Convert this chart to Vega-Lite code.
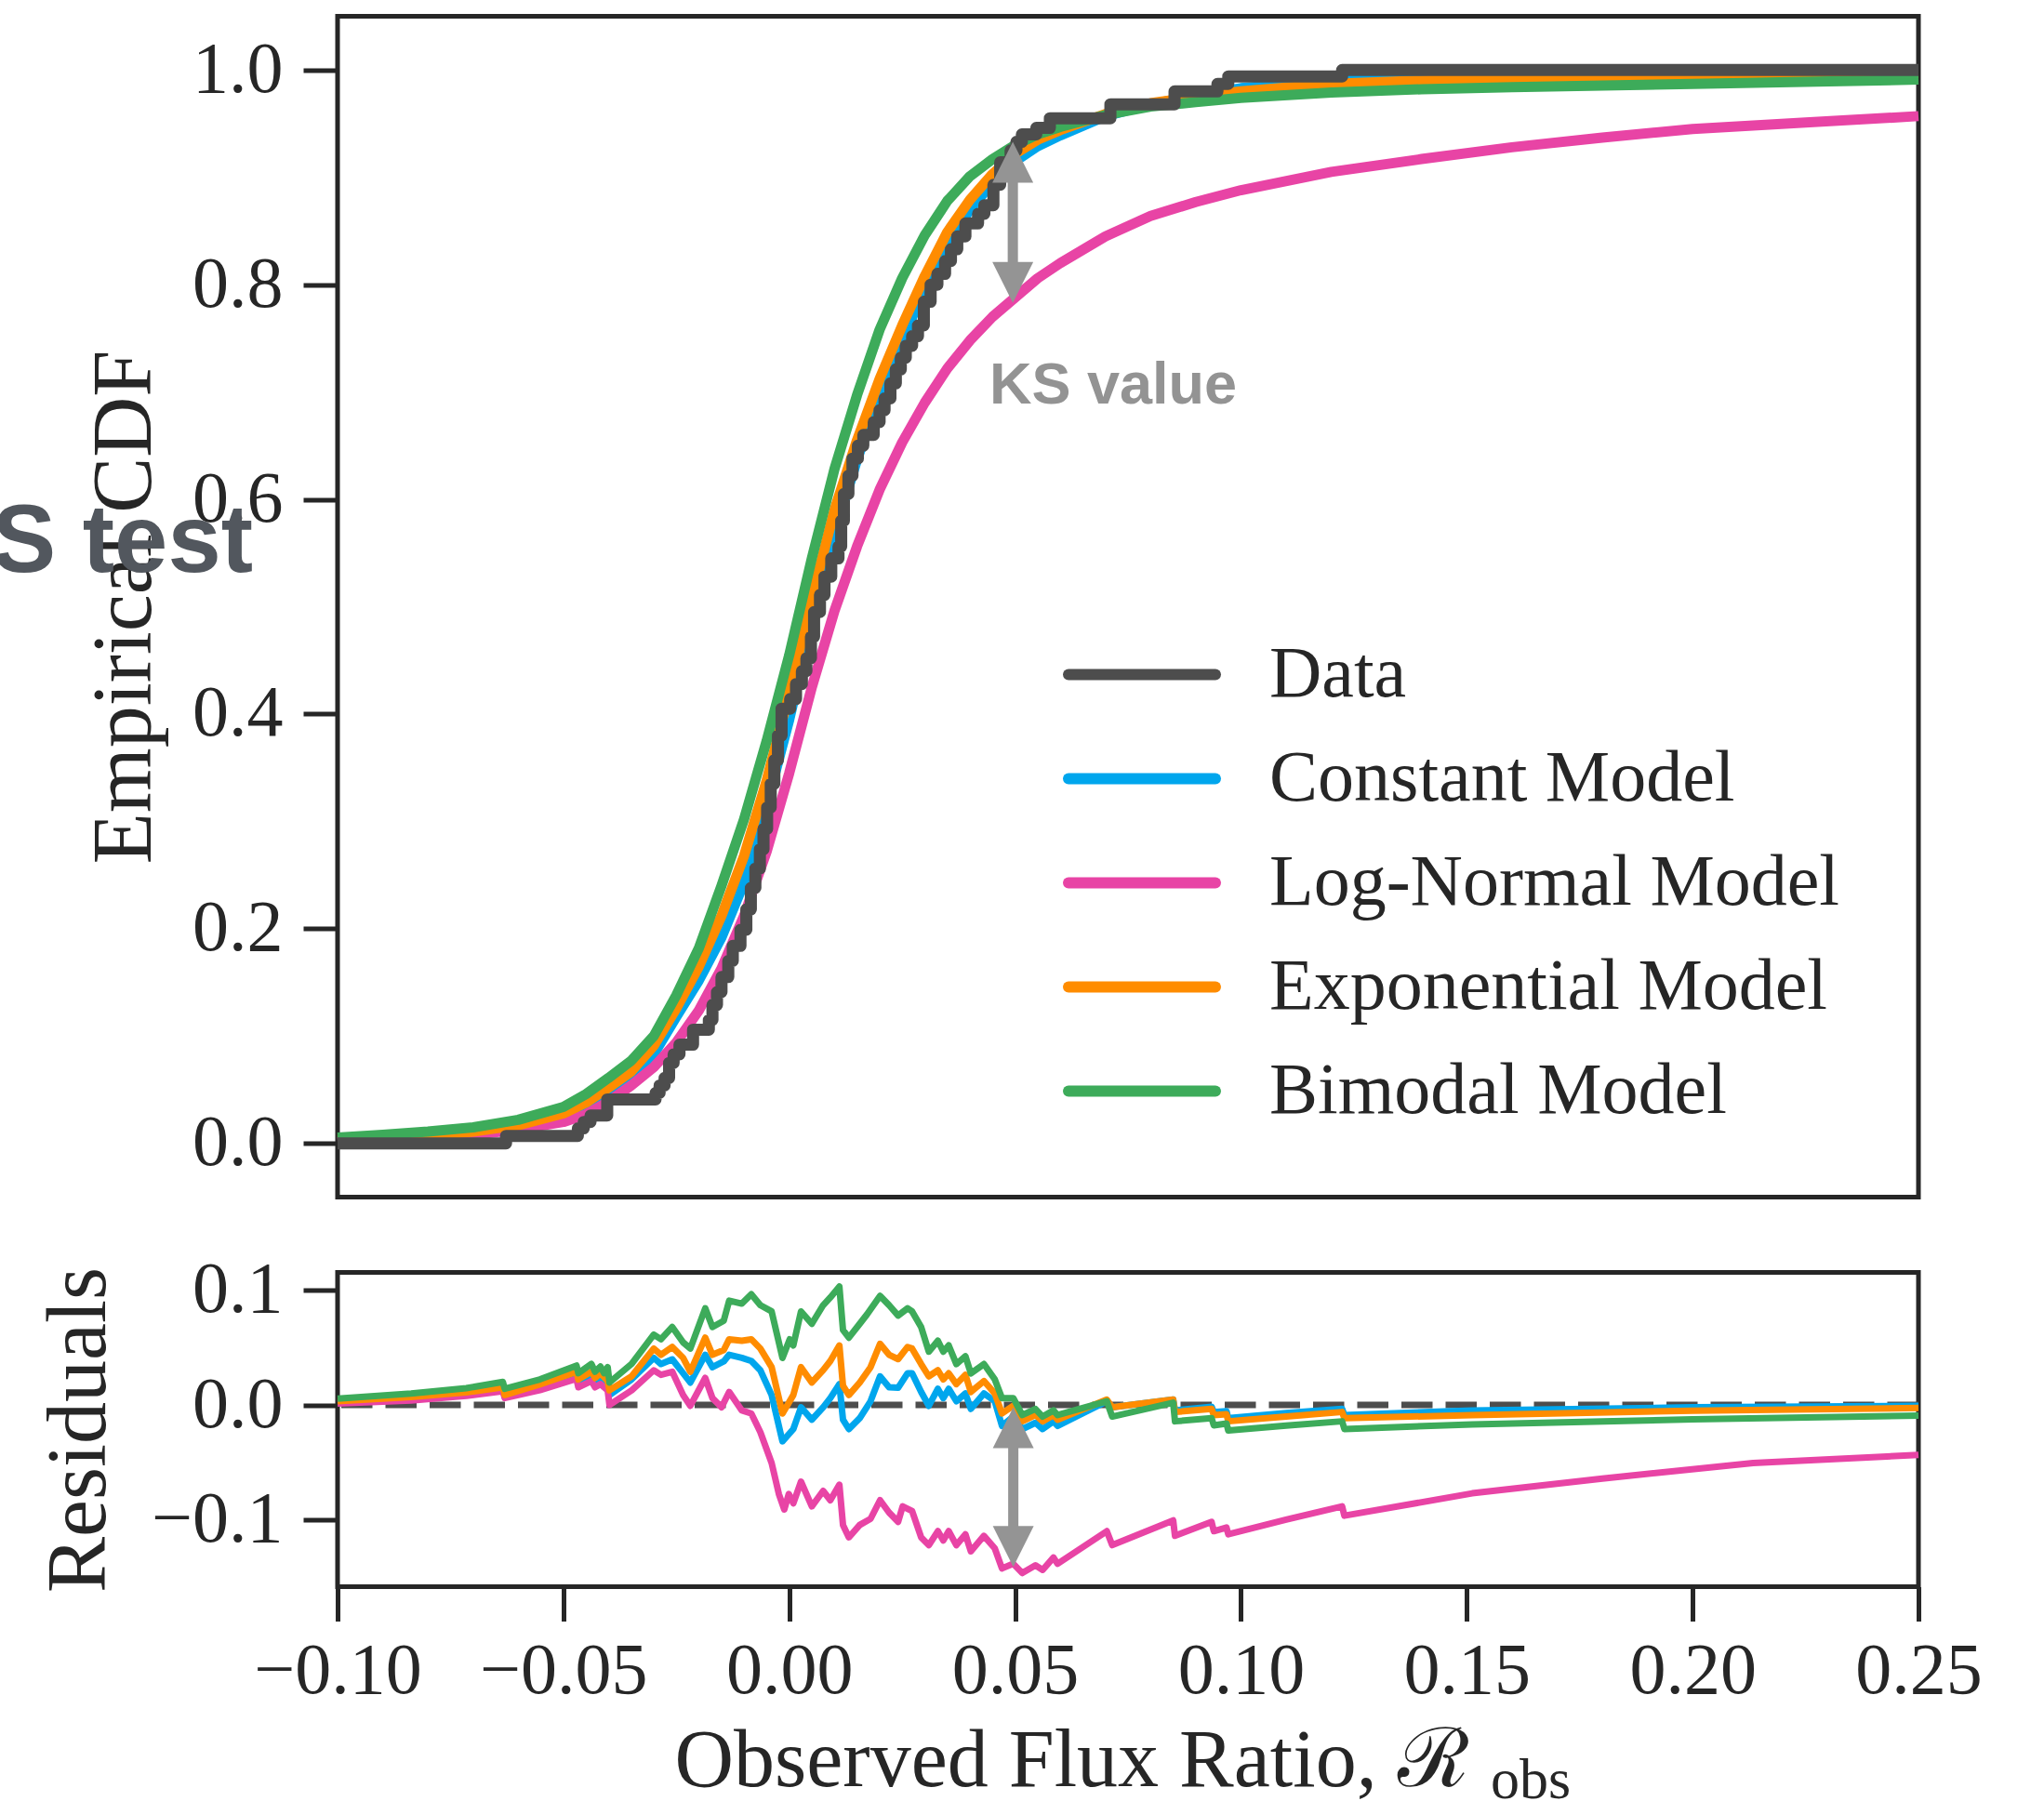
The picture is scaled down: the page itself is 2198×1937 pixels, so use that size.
{
  "$schema": "https://vega.github.io/schema/vega-lite/v6.json",
  "background": "white",
  "autosize": {"type": "pad"},
  "padding": {"left": -86, "top": 14.5, "right": 10, "bottom": -11},
  "config": {
    "view": {"stroke": "#262626", "strokeWidth": 5},
    "axis": {
      "domain": false, "grid": false, "ticks": true,
      "tickColor": "#262626", "tickWidth": 5, "tickSize": 37,
      "labelFont": "Liberation Serif", "labelFontSize": 78, "labelColor": "#262626", "labelLimit": 0,
      "labelPadding": 22, "labelOverlap": false, "labelFlush": false,
      "titleFont": "Liberation Serif", "titleFontSize": 90, "titleColor": "#262626", "titleFontWeight": "normal", "titleLimit": 0
    }
  },
  "datasets": {
    "cdf": [
      {"s":"Constant Model","x":-0.1,"v":0.002},{"s":"Constant Model","x":-0.09,"v":0.003},{"s":"Constant Model","x":-0.08,"v":0.005},{"s":"Constant Model","x":-0.07,"v":0.009},{"s":"Constant Model","x":-0.06,"v":0.016},{"s":"Constant Model","x":-0.05,"v":0.027},{"s":"Constant Model","x":-0.045,"v":0.036},{"s":"Constant Model","x":-0.04,"v":0.048},{"s":"Constant Model","x":-0.035,"v":0.063},{"s":"Constant Model","x":-0.03,"v":0.083},{"s":"Constant Model","x":-0.025,"v":0.118},{"s":"Constant Model","x":-0.02,"v":0.152},{"s":"Constant Model","x":-0.015,"v":0.192},{"s":"Constant Model","x":-0.01,"v":0.243},{"s":"Constant Model","x":-0.005,"v":0.315},{"s":"Constant Model","x":0.0,"v":0.395},{"s":"Constant Model","x":0.005,"v":0.485},{"s":"Constant Model","x":0.01,"v":0.568},{"s":"Constant Model","x":0.015,"v":0.637},{"s":"Constant Model","x":0.02,"v":0.697},{"s":"Constant Model","x":0.025,"v":0.748},{"s":"Constant Model","x":0.03,"v":0.797},{"s":"Constant Model","x":0.035,"v":0.838},{"s":"Constant Model","x":0.04,"v":0.87},{"s":"Constant Model","x":0.045,"v":0.895},{"s":"Constant Model","x":0.05,"v":0.915},{"s":"Constant Model","x":0.055,"v":0.929},{"s":"Constant Model","x":0.06,"v":0.939},{"s":"Constant Model","x":0.07,"v":0.957},{"s":"Constant Model","x":0.08,"v":0.968},{"s":"Constant Model","x":0.09,"v":0.976},{"s":"Constant Model","x":0.1,"v":0.983},{"s":"Constant Model","x":0.12,"v":0.99},{"s":"Constant Model","x":0.14,"v":0.994},{"s":"Constant Model","x":0.16,"v":0.996},{"s":"Constant Model","x":0.2,"v":0.998},{"s":"Constant Model","x":0.25,"v":0.999},
      {"s":"Log-Normal Model","x":-0.1,"v":0.0012},{"s":"Log-Normal Model","x":-0.09,"v":0.003},{"s":"Log-Normal Model","x":-0.08,"v":0.005},{"s":"Log-Normal Model","x":-0.07,"v":0.008},{"s":"Log-Normal Model","x":-0.06,"v":0.013},{"s":"Log-Normal Model","x":-0.05,"v":0.02},{"s":"Log-Normal Model","x":-0.045,"v":0.027},{"s":"Log-Normal Model","x":-0.04,"v":0.039},{"s":"Log-Normal Model","x":-0.035,"v":0.054},{"s":"Log-Normal Model","x":-0.03,"v":0.071},{"s":"Log-Normal Model","x":-0.025,"v":0.094},{"s":"Log-Normal Model","x":-0.02,"v":0.124},{"s":"Log-Normal Model","x":-0.015,"v":0.163},{"s":"Log-Normal Model","x":-0.01,"v":0.212},{"s":"Log-Normal Model","x":-0.005,"v":0.272},{"s":"Log-Normal Model","x":0.0,"v":0.345},{"s":"Log-Normal Model","x":0.005,"v":0.425},{"s":"Log-Normal Model","x":0.01,"v":0.496},{"s":"Log-Normal Model","x":0.015,"v":0.556},{"s":"Log-Normal Model","x":0.02,"v":0.609},{"s":"Log-Normal Model","x":0.025,"v":0.653},{"s":"Log-Normal Model","x":0.03,"v":0.69},{"s":"Log-Normal Model","x":0.035,"v":0.722},{"s":"Log-Normal Model","x":0.04,"v":0.748},{"s":"Log-Normal Model","x":0.045,"v":0.77},{"s":"Log-Normal Model","x":0.05,"v":0.788},{"s":"Log-Normal Model","x":0.055,"v":0.806},{"s":"Log-Normal Model","x":0.06,"v":0.82},{"s":"Log-Normal Model","x":0.07,"v":0.845},{"s":"Log-Normal Model","x":0.08,"v":0.864},{"s":"Log-Normal Model","x":0.09,"v":0.877},{"s":"Log-Normal Model","x":0.1,"v":0.888},{"s":"Log-Normal Model","x":0.12,"v":0.905},{"s":"Log-Normal Model","x":0.14,"v":0.917},{"s":"Log-Normal Model","x":0.16,"v":0.928},{"s":"Log-Normal Model","x":0.18,"v":0.937},{"s":"Log-Normal Model","x":0.2,"v":0.945},{"s":"Log-Normal Model","x":0.225,"v":0.951},{"s":"Log-Normal Model","x":0.25,"v":0.957},
      {"s":"Exponential Model","x":-0.1,"v":0.0033},{"s":"Exponential Model","x":-0.09,"v":0.005},{"s":"Exponential Model","x":-0.08,"v":0.007},{"s":"Exponential Model","x":-0.07,"v":0.011},{"s":"Exponential Model","x":-0.06,"v":0.017},{"s":"Exponential Model","x":-0.05,"v":0.028},{"s":"Exponential Model","x":-0.045,"v":0.038},{"s":"Exponential Model","x":-0.04,"v":0.052},{"s":"Exponential Model","x":-0.035,"v":0.067},{"s":"Exponential Model","x":-0.03,"v":0.091},{"s":"Exponential Model","x":-0.025,"v":0.126},{"s":"Exponential Model","x":-0.02,"v":0.165},{"s":"Exponential Model","x":-0.015,"v":0.212},{"s":"Exponential Model","x":-0.01,"v":0.268},{"s":"Exponential Model","x":-0.005,"v":0.338},{"s":"Exponential Model","x":0.0,"v":0.42},{"s":"Exponential Model","x":0.005,"v":0.508},{"s":"Exponential Model","x":0.01,"v":0.59},{"s":"Exponential Model","x":0.015,"v":0.655},{"s":"Exponential Model","x":0.02,"v":0.712},{"s":"Exponential Model","x":0.025,"v":0.762},{"s":"Exponential Model","x":0.03,"v":0.808},{"s":"Exponential Model","x":0.035,"v":0.849},{"s":"Exponential Model","x":0.04,"v":0.879},{"s":"Exponential Model","x":0.045,"v":0.903},{"s":"Exponential Model","x":0.05,"v":0.922},{"s":"Exponential Model","x":0.055,"v":0.935},{"s":"Exponential Model","x":0.06,"v":0.944},{"s":"Exponential Model","x":0.07,"v":0.959},{"s":"Exponential Model","x":0.08,"v":0.969},{"s":"Exponential Model","x":0.09,"v":0.975},{"s":"Exponential Model","x":0.1,"v":0.98},{"s":"Exponential Model","x":0.12,"v":0.987},{"s":"Exponential Model","x":0.14,"v":0.99},{"s":"Exponential Model","x":0.16,"v":0.992},{"s":"Exponential Model","x":0.2,"v":0.995},{"s":"Exponential Model","x":0.25,"v":0.997},
      {"s":"Bimodal Model","x":-0.1,"v":0.0055},{"s":"Bimodal Model","x":-0.09,"v":0.008},{"s":"Bimodal Model","x":-0.08,"v":0.011},{"s":"Bimodal Model","x":-0.07,"v":0.015},{"s":"Bimodal Model","x":-0.06,"v":0.022},{"s":"Bimodal Model","x":-0.05,"v":0.034},{"s":"Bimodal Model","x":-0.045,"v":0.046},{"s":"Bimodal Model","x":-0.04,"v":0.061},{"s":"Bimodal Model","x":-0.035,"v":0.077},{"s":"Bimodal Model","x":-0.03,"v":0.1},{"s":"Bimodal Model","x":-0.025,"v":0.138},{"s":"Bimodal Model","x":-0.02,"v":0.182},{"s":"Bimodal Model","x":-0.015,"v":0.24},{"s":"Bimodal Model","x":-0.01,"v":0.302},{"s":"Bimodal Model","x":-0.005,"v":0.375},{"s":"Bimodal Model","x":0.0,"v":0.455},{"s":"Bimodal Model","x":0.005,"v":0.545},{"s":"Bimodal Model","x":0.01,"v":0.628},{"s":"Bimodal Model","x":0.015,"v":0.697},{"s":"Bimodal Model","x":0.02,"v":0.758},{"s":"Bimodal Model","x":0.025,"v":0.806},{"s":"Bimodal Model","x":0.03,"v":0.846},{"s":"Bimodal Model","x":0.035,"v":0.878},{"s":"Bimodal Model","x":0.04,"v":0.901},{"s":"Bimodal Model","x":0.045,"v":0.917},{"s":"Bimodal Model","x":0.05,"v":0.93},{"s":"Bimodal Model","x":0.055,"v":0.94},{"s":"Bimodal Model","x":0.06,"v":0.947},{"s":"Bimodal Model","x":0.07,"v":0.958},{"s":"Bimodal Model","x":0.08,"v":0.966},{"s":"Bimodal Model","x":0.09,"v":0.97},{"s":"Bimodal Model","x":0.1,"v":0.974},{"s":"Bimodal Model","x":0.12,"v":0.979},{"s":"Bimodal Model","x":0.14,"v":0.982},{"s":"Bimodal Model","x":0.16,"v":0.984},{"s":"Bimodal Model","x":0.2,"v":0.987},{"s":"Bimodal Model","x":0.25,"v":0.991}
    ],
    "ecdf": [
      {"s":"Data","x":-0.1,"v":0},{"s":"Data","x":-0.0627,"v":0.007},{"s":"Data","x":-0.0468,"v":0.014},{"s":"Data","x":-0.0455,"v":0.02},{"s":"Data","x":-0.044,"v":0.026},{"s":"Data","x":-0.0403,"v":0.041},{"s":"Data","x":-0.0296,"v":0.047},{"s":"Data","x":-0.0287,"v":0.054},{"s":"Data","x":-0.0276,"v":0.061},{"s":"Data","x":-0.0266,"v":0.075},{"s":"Data","x":-0.0256,"v":0.083},{"s":"Data","x":-0.0243,"v":0.092},{"s":"Data","x":-0.0213,"v":0.106},{"s":"Data","x":-0.0178,"v":0.115},{"s":"Data","x":-0.017,"v":0.129},{"s":"Data","x":-0.016,"v":0.141},{"s":"Data","x":-0.015,"v":0.155},{"s":"Data","x":-0.0135,"v":0.17},{"s":"Data","x":-0.0125,"v":0.184},{"s":"Data","x":-0.0108,"v":0.199},{"s":"Data","x":-0.0095,"v":0.218},{"s":"Data","x":-0.0085,"v":0.238},{"s":"Data","x":-0.0075,"v":0.256},{"s":"Data","x":-0.0065,"v":0.274},{"s":"Data","x":-0.0057,"v":0.293},{"s":"Data","x":-0.0049,"v":0.313},{"s":"Data","x":-0.0041,"v":0.335},{"s":"Data","x":-0.0033,"v":0.357},{"s":"Data","x":-0.0025,"v":0.38},{"s":"Data","x":-0.0017,"v":0.405},{"s":"Data","x":0.0002,"v":0.414},{"s":"Data","x":0.0015,"v":0.428},{"s":"Data","x":0.0028,"v":0.44},{"s":"Data","x":0.0038,"v":0.452},{"s":"Data","x":0.0048,"v":0.472},{"s":"Data","x":0.0055,"v":0.495},{"s":"Data","x":0.0068,"v":0.511},{"s":"Data","x":0.0078,"v":0.528},{"s":"Data","x":0.0093,"v":0.545},{"s":"Data","x":0.0109,"v":0.556},{"s":"Data","x":0.0115,"v":0.58},{"s":"Data","x":0.0121,"v":0.605},{"s":"Data","x":0.0131,"v":0.622},{"s":"Data","x":0.014,"v":0.638},{"s":"Data","x":0.0152,"v":0.65},{"s":"Data","x":0.0164,"v":0.66},{"s":"Data","x":0.0187,"v":0.672},{"s":"Data","x":0.02,"v":0.683},{"s":"Data","x":0.0211,"v":0.694},{"s":"Data","x":0.0224,"v":0.708},{"s":"Data","x":0.0236,"v":0.721},{"s":"Data","x":0.0247,"v":0.732},{"s":"Data","x":0.0258,"v":0.743},{"s":"Data","x":0.0272,"v":0.752},{"s":"Data","x":0.0285,"v":0.762},{"s":"Data","x":0.0298,"v":0.784},{"s":"Data","x":0.0313,"v":0.8},{"s":"Data","x":0.0328,"v":0.81},{"s":"Data","x":0.0345,"v":0.822},{"s":"Data","x":0.0358,"v":0.833},{"s":"Data","x":0.0372,"v":0.845},{"s":"Data","x":0.039,"v":0.857},{"s":"Data","x":0.0418,"v":0.866},{"s":"Data","x":0.0432,"v":0.874},{"s":"Data","x":0.0452,"v":0.893},{"s":"Data","x":0.0467,"v":0.914},{"s":"Data","x":0.049,"v":0.925},{"s":"Data","x":0.0503,"v":0.933},{"s":"Data","x":0.0515,"v":0.94},{"s":"Data","x":0.0547,"v":0.946},{"s":"Data","x":0.0577,"v":0.955},{"s":"Data","x":0.0711,"v":0.968},{"s":"Data","x":0.0853,"v":0.98},{"s":"Data","x":0.0948,"v":0.987},{"s":"Data","x":0.0972,"v":0.994},{"s":"Data","x":0.1224,"v":1.0},{"s":"Data","x":0.25,"v":1.0}
    ],
    "resid": [
      {"s":"Constant Model","x":-0.1,"r":0.002},{"s":"Constant Model","x":-0.0837,"r":0.005},{"s":"Constant Model","x":-0.0715,"r":0.009},{"s":"Constant Model","x":-0.0634,"r":0.0141},{"s":"Constant Model","x":-0.063,"r":0.0074},{"s":"Constant Model","x":-0.0552,"r":0.016},{"s":"Constant Model","x":-0.0471,"r":0.0263},{"s":"Constant Model","x":-0.0467,"r":0.0196},{"s":"Constant Model","x":-0.0438,"r":0.025},{"s":"Constant Model","x":-0.043,"r":0.0196},{"s":"Constant Model","x":-0.0418,"r":0.023},{"s":"Constant Model","x":-0.0402,"r":0.0182},{"s":"Constant Model","x":-0.0398,"r":0.0087},{"s":"Constant Model","x":-0.0349,"r":0.0223},{"s":"Constant Model","x":-0.03,"r":0.0411},{"s":"Constant Model","x":-0.0284,"r":0.0357},{"s":"Constant Model","x":-0.0259,"r":0.0398},{"s":"Constant Model","x":-0.0235,"r":0.0277},{"s":"Constant Model","x":-0.0219,"r":0.0196},{"s":"Constant Model","x":-0.0186,"r":0.0438},{"s":"Constant Model","x":-0.017,"r":0.033},{"s":"Constant Model","x":-0.0145,"r":0.038},{"s":"Constant Model","x":-0.0133,"r":0.0438},{"s":"Constant Model","x":-0.0105,"r":0.0411},{"s":"Constant Model","x":-0.0084,"r":0.0384},{"s":"Constant Model","x":-0.0064,"r":0.0303},{"s":"Constant Model","x":-0.0039,"r":0.0087},{"s":"Constant Model","x":-0.0015,"r":-0.0317},{"s":"Constant Model","x":0.0009,"r":-0.021},{"s":"Constant Model","x":0.0026,"r":-0.002},{"s":"Constant Model","x":0.005,"r":-0.0128},{"s":"Constant Model","x":0.0075,"r":-0.002},{"s":"Constant Model","x":0.0091,"r":0.006},{"s":"Constant Model","x":0.0111,"r":0.0182},{"s":"Constant Model","x":0.0119,"r":-0.0128},{"s":"Constant Model","x":0.0132,"r":-0.021},{"s":"Constant Model","x":0.0156,"r":-0.0115},{"s":"Constant Model","x":0.018,"r":0.0033},{"s":"Constant Model","x":0.0201,"r":0.025},{"s":"Constant Model","x":0.0221,"r":0.0155},{"s":"Constant Model","x":0.0241,"r":0.015},{"s":"Constant Model","x":0.0262,"r":0.0277},{"s":"Constant Model","x":0.0272,"r":0.0277},{"s":"Constant Model","x":0.0292,"r":0.0114},{"s":"Constant Model","x":0.0309,"r":-0.0007},{"s":"Constant Model","x":0.0329,"r":0.0141},{"s":"Constant Model","x":0.0341,"r":0.006},{"s":"Constant Model","x":0.0353,"r":0.0141},{"s":"Constant Model","x":0.037,"r":0.0033},{"s":"Constant Model","x":0.039,"r":0.0101},{"s":"Constant Model","x":0.0402,"r":-0.0034},{"s":"Constant Model","x":0.0431,"r":0.0101},{"s":"Constant Model","x":0.0455,"r":0.0033},{"s":"Constant Model","x":0.0471,"r":-0.0182},{"s":"Constant Model","x":0.0496,"r":-0.0101},{"s":"Constant Model","x":0.0516,"r":-0.021},{"s":"Constant Model","x":0.0545,"r":-0.0155},{"s":"Constant Model","x":0.0561,"r":-0.021},{"s":"Constant Model","x":0.0585,"r":-0.0142},{"s":"Constant Model","x":0.0594,"r":-0.0182},{"s":"Constant Model","x":0.0703,"r":0.0033},{"s":"Constant Model","x":0.0715,"r":-0.002},{"s":"Constant Model","x":0.085,"r":0.0047},{"s":"Constant Model","x":0.0854,"r":-0.0047},{"s":"Constant Model","x":0.0935,"r":-0.0015},{"s":"Constant Model","x":0.094,"r":-0.0061},{"s":"Constant Model","x":0.0968,"r":-0.0053},{"s":"Constant Model","x":0.0972,"r":-0.0115},{"s":"Constant Model","x":0.11,"r":-0.007},{"s":"Constant Model","x":0.1224,"r":-0.0034},{"s":"Constant Model","x":0.1229,"r":-0.0088},{"s":"Constant Model","x":0.1512,"r":-0.0047},{"s":"Constant Model","x":0.2,"r":-0.002},{"s":"Constant Model","x":0.25,"r":-0.0008},
      {"s":"Log-Normal Model","x":-0.1,"r":0.0012},{"s":"Log-Normal Model","x":-0.0837,"r":0.004},{"s":"Log-Normal Model","x":-0.0715,"r":0.008},{"s":"Log-Normal Model","x":-0.0634,"r":0.012},{"s":"Log-Normal Model","x":-0.063,"r":0.006},{"s":"Log-Normal Model","x":-0.0552,"r":0.013},{"s":"Log-Normal Model","x":-0.0471,"r":0.0228},{"s":"Log-Normal Model","x":-0.0467,"r":0.0155},{"s":"Log-Normal Model","x":-0.0438,"r":0.0209},{"s":"Log-Normal Model","x":-0.043,"r":0.0155},{"s":"Log-Normal Model","x":-0.0418,"r":0.0182},{"s":"Log-Normal Model","x":-0.0402,"r":0.0128},{"s":"Log-Normal Model","x":-0.0398,"r":0.0001},{"s":"Log-Normal Model","x":-0.0349,"r":0.0128},{"s":"Log-Normal Model","x":-0.03,"r":0.0303},{"s":"Log-Normal Model","x":-0.0284,"r":0.0263},{"s":"Log-Normal Model","x":-0.0259,"r":0.029},{"s":"Log-Normal Model","x":-0.0235,"r":0.0087},{"s":"Log-Normal Model","x":-0.0219,"r":-0.0007},{"s":"Log-Normal Model","x":-0.0186,"r":0.0236},{"s":"Log-Normal Model","x":-0.017,"r":0.006},{"s":"Log-Normal Model","x":-0.015,"r":-0.002},{"s":"Log-Normal Model","x":-0.0133,"r":0.0114},{"s":"Log-Normal Model","x":-0.0105,"r":-0.0047},{"s":"Log-Normal Model","x":-0.0084,"r":-0.0074},{"s":"Log-Normal Model","x":-0.0064,"r":-0.0236},{"s":"Log-Normal Model","x":-0.0039,"r":-0.0506},{"s":"Log-Normal Model","x":-0.0023,"r":-0.0776},{"s":"Log-Normal Model","x":-0.0011,"r":-0.0911},{"s":"Log-Normal Model","x":-0.0001,"r":-0.0776},{"s":"Log-Normal Model","x":0.0009,"r":-0.0857},{"s":"Log-Normal Model","x":0.0026,"r":-0.0668},{"s":"Log-Normal Model","x":0.005,"r":-0.0884},{"s":"Log-Normal Model","x":0.0075,"r":-0.0749},{"s":"Log-Normal Model","x":0.0091,"r":-0.083},{"s":"Log-Normal Model","x":0.0111,"r":-0.0695},{"s":"Log-Normal Model","x":0.0119,"r":-0.1046},{"s":"Log-Normal Model","x":0.0132,"r":-0.1154},{"s":"Log-Normal Model","x":0.0156,"r":-0.1046},{"s":"Log-Normal Model","x":0.018,"r":-0.0992},{"s":"Log-Normal Model","x":0.0201,"r":-0.083},{"s":"Log-Normal Model","x":0.0221,"r":-0.0938},{"s":"Log-Normal Model","x":0.0241,"r":-0.1019},{"s":"Log-Normal Model","x":0.0251,"r":-0.0884},{"s":"Log-Normal Model","x":0.0272,"r":-0.0925},{"s":"Log-Normal Model","x":0.0292,"r":-0.1154},{"s":"Log-Normal Model","x":0.0309,"r":-0.1222},{"s":"Log-Normal Model","x":0.0329,"r":-0.11},{"s":"Log-Normal Model","x":0.0341,"r":-0.1181},{"s":"Log-Normal Model","x":0.0353,"r":-0.11},{"s":"Log-Normal Model","x":0.037,"r":-0.1222},{"s":"Log-Normal Model","x":0.039,"r":-0.1127},{"s":"Log-Normal Model","x":0.0402,"r":-0.1276},{"s":"Log-Normal Model","x":0.0431,"r":-0.1141},{"s":"Log-Normal Model","x":0.0455,"r":-0.125},{"s":"Log-Normal Model","x":0.0471,"r":-0.1425},{"s":"Log-Normal Model","x":0.0496,"r":-0.1384},{"s":"Log-Normal Model","x":0.0516,"r":-0.1465},{"s":"Log-Normal Model","x":0.0545,"r":-0.1398},{"s":"Log-Normal Model","x":0.0561,"r":-0.1438},{"s":"Log-Normal Model","x":0.0585,"r":-0.133},{"s":"Log-Normal Model","x":0.0594,"r":-0.1384},{"s":"Log-Normal Model","x":0.0703,"r":-0.11},{"s":"Log-Normal Model","x":0.0715,"r":-0.1222},{"s":"Log-Normal Model","x":0.085,"r":-0.1006},{"s":"Log-Normal Model","x":0.0854,"r":-0.1141},{"s":"Log-Normal Model","x":0.0935,"r":-0.1019},{"s":"Log-Normal Model","x":0.094,"r":-0.11},{"s":"Log-Normal Model","x":0.0968,"r":-0.1068},{"s":"Log-Normal Model","x":0.0972,"r":-0.1127},{"s":"Log-Normal Model","x":0.11,"r":-0.1},{"s":"Log-Normal Model","x":0.1224,"r":-0.0884},{"s":"Log-Normal Model","x":0.1229,"r":-0.0965},{"s":"Log-Normal Model","x":0.1512,"r":-0.077},{"s":"Log-Normal Model","x":0.18,"r":-0.0641},{"s":"Log-Normal Model","x":0.2134,"r":-0.0506},{"s":"Log-Normal Model","x":0.25,"r":-0.0435},
      {"s":"Exponential Model","x":-0.1,"r":0.0033},{"s":"Exponential Model","x":-0.0837,"r":0.007},{"s":"Exponential Model","x":-0.0715,"r":0.011},{"s":"Exponential Model","x":-0.0634,"r":0.0155},{"s":"Exponential Model","x":-0.063,"r":0.0087},{"s":"Exponential Model","x":-0.0552,"r":0.018},{"s":"Exponential Model","x":-0.0471,"r":0.029},{"s":"Exponential Model","x":-0.0467,"r":0.0223},{"s":"Exponential Model","x":-0.0438,"r":0.029},{"s":"Exponential Model","x":-0.043,"r":0.0236},{"s":"Exponential Model","x":-0.0418,"r":0.0277},{"s":"Exponential Model","x":-0.0402,"r":0.0209},{"s":"Exponential Model","x":-0.0398,"r":0.0128},{"s":"Exponential Model","x":-0.0349,"r":0.025},{"s":"Exponential Model","x":-0.03,"r":0.0492},{"s":"Exponential Model","x":-0.0284,"r":0.0438},{"s":"Exponential Model","x":-0.0259,"r":0.0506},{"s":"Exponential Model","x":-0.0235,"r":0.0411},{"s":"Exponential Model","x":-0.0219,"r":0.029},{"s":"Exponential Model","x":-0.0186,"r":0.0587},{"s":"Exponential Model","x":-0.017,"r":0.0438},{"s":"Exponential Model","x":-0.0145,"r":0.0479},{"s":"Exponential Model","x":-0.0133,"r":0.0573},{"s":"Exponential Model","x":-0.0105,"r":0.056},{"s":"Exponential Model","x":-0.0084,"r":0.0573},{"s":"Exponential Model","x":-0.0064,"r":0.0492},{"s":"Exponential Model","x":-0.0039,"r":0.033},{"s":"Exponential Model","x":-0.0015,"r":-0.0074},{"s":"Exponential Model","x":0.0009,"r":0.0087},{"s":"Exponential Model","x":0.0026,"r":0.033},{"s":"Exponential Model","x":0.005,"r":0.0196},{"s":"Exponential Model","x":0.0075,"r":0.0303},{"s":"Exponential Model","x":0.0091,"r":0.0384},{"s":"Exponential Model","x":0.0111,"r":0.0519},{"s":"Exponential Model","x":0.0119,"r":0.0168},{"s":"Exponential Model","x":0.0132,"r":0.0087},{"s":"Exponential Model","x":0.0156,"r":0.0196},{"s":"Exponential Model","x":0.018,"r":0.033},{"s":"Exponential Model","x":0.0201,"r":0.0533},{"s":"Exponential Model","x":0.0221,"r":0.0438},{"s":"Exponential Model","x":0.0241,"r":0.04},{"s":"Exponential Model","x":0.0262,"r":0.0506},{"s":"Exponential Model","x":0.0272,"r":0.0492},{"s":"Exponential Model","x":0.0292,"r":0.0357},{"s":"Exponential Model","x":0.0309,"r":0.025},{"s":"Exponential Model","x":0.0329,"r":0.0303},{"s":"Exponential Model","x":0.0341,"r":0.0223},{"s":"Exponential Model","x":0.0353,"r":0.0276},{"s":"Exponential Model","x":0.037,"r":0.0182},{"s":"Exponential Model","x":0.039,"r":0.0263},{"s":"Exponential Model","x":0.0402,"r":0.0114},{"s":"Exponential Model","x":0.0431,"r":0.0209},{"s":"Exponential Model","x":0.0455,"r":0.0101},{"s":"Exponential Model","x":0.0471,"r":-0.0074},{"s":"Exponential Model","x":0.0496,"r":-0.0007},{"s":"Exponential Model","x":0.0516,"r":-0.0142},{"s":"Exponential Model","x":0.0545,"r":-0.0088},{"s":"Exponential Model","x":0.0561,"r":-0.0142},{"s":"Exponential Model","x":0.0585,"r":-0.0088},{"s":"Exponential Model","x":0.0594,"r":-0.0128},{"s":"Exponential Model","x":0.0703,"r":0.0047},{"s":"Exponential Model","x":0.0715,"r":-0.002},{"s":"Exponential Model","x":0.085,"r":0.0047},{"s":"Exponential Model","x":0.0854,"r":-0.0061},{"s":"Exponential Model","x":0.0935,"r":-0.0034},{"s":"Exponential Model","x":0.094,"r":-0.0088},{"s":"Exponential Model","x":0.0968,"r":-0.008},{"s":"Exponential Model","x":0.0972,"r":-0.0142},{"s":"Exponential Model","x":0.11,"r":-0.01},{"s":"Exponential Model","x":0.1224,"r":-0.0061},{"s":"Exponential Model","x":0.1229,"r":-0.0115},{"s":"Exponential Model","x":0.1512,"r":-0.0088},{"s":"Exponential Model","x":0.2,"r":-0.005},{"s":"Exponential Model","x":0.25,"r":-0.0026},
      {"s":"Bimodal Model","x":-0.1,"r":0.0055},{"s":"Bimodal Model","x":-0.0837,"r":0.0101},{"s":"Bimodal Model","x":-0.0715,"r":0.0147},{"s":"Bimodal Model","x":-0.0634,"r":0.0201},{"s":"Bimodal Model","x":-0.063,"r":0.0142},{"s":"Bimodal Model","x":-0.0552,"r":0.0223},{"s":"Bimodal Model","x":-0.0471,"r":0.0344},{"s":"Bimodal Model","x":-0.0467,"r":0.0277},{"s":"Bimodal Model","x":-0.0438,"r":0.0358},{"s":"Bimodal Model","x":-0.043,"r":0.029},{"s":"Bimodal Model","x":-0.0418,"r":0.0336},{"s":"Bimodal Model","x":-0.041,"r":0.0277},{"s":"Bimodal Model","x":-0.0402,"r":0.033},{"s":"Bimodal Model","x":-0.0398,"r":0.0196},{"s":"Bimodal Model","x":-0.0349,"r":0.0358},{"s":"Bimodal Model","x":-0.03,"r":0.0614},{"s":"Bimodal Model","x":-0.0284,"r":0.0573},{"s":"Bimodal Model","x":-0.0259,"r":0.068},{"s":"Bimodal Model","x":-0.0235,"r":0.0546},{"s":"Bimodal Model","x":-0.0219,"r":0.0492},{"s":"Bimodal Model","x":-0.0186,"r":0.0843},{"s":"Bimodal Model","x":-0.017,"r":0.068},{"s":"Bimodal Model","x":-0.0145,"r":0.0735},{"s":"Bimodal Model","x":-0.0133,"r":0.091},{"s":"Bimodal Model","x":-0.0105,"r":0.0884},{"s":"Bimodal Model","x":-0.0084,"r":0.0965},{"s":"Bimodal Model","x":-0.0064,"r":0.087},{"s":"Bimodal Model","x":-0.0039,"r":0.0816},{"s":"Bimodal Model","x":-0.0015,"r":0.041},{"s":"Bimodal Model","x":0.0001,"r":0.0573},{"s":"Bimodal Model","x":0.0009,"r":0.052},{"s":"Bimodal Model","x":0.0026,"r":0.0816},{"s":"Bimodal Model","x":0.005,"r":0.0708},{"s":"Bimodal Model","x":0.0075,"r":0.087},{"s":"Bimodal Model","x":0.0091,"r":0.0938},{"s":"Bimodal Model","x":0.0111,"r":0.1032},{"s":"Bimodal Model","x":0.0119,"r":0.0654},{"s":"Bimodal Model","x":0.0132,"r":0.0587},{"s":"Bimodal Model","x":0.0156,"r":0.0708},{"s":"Bimodal Model","x":0.0172,"r":0.0789},{"s":"Bimodal Model","x":0.0201,"r":0.0951},{"s":"Bimodal Model","x":0.0221,"r":0.087},{"s":"Bimodal Model","x":0.0241,"r":0.078},{"s":"Bimodal Model","x":0.0262,"r":0.0843},{"s":"Bimodal Model","x":0.0272,"r":0.0816},{"s":"Bimodal Model","x":0.0292,"r":0.068},{"s":"Bimodal Model","x":0.0309,"r":0.0465},{"s":"Bimodal Model","x":0.0329,"r":0.056},{"s":"Bimodal Model","x":0.0341,"r":0.0465},{"s":"Bimodal Model","x":0.0353,"r":0.052},{"s":"Bimodal Model","x":0.037,"r":0.0357},{"s":"Bimodal Model","x":0.039,"r":0.0425},{"s":"Bimodal Model","x":0.0402,"r":0.0276},{"s":"Bimodal Model","x":0.0431,"r":0.0357},{"s":"Bimodal Model","x":0.0455,"r":0.0223},{"s":"Bimodal Model","x":0.0471,"r":0.006},{"s":"Bimodal Model","x":0.0496,"r":0.006},{"s":"Bimodal Model","x":0.0516,"r":-0.0088},{"s":"Bimodal Model","x":0.0545,"r":-0.0034},{"s":"Bimodal Model","x":0.0561,"r":-0.0101},{"s":"Bimodal Model","x":0.0585,"r":-0.0047},{"s":"Bimodal Model","x":0.0594,"r":-0.0088},{"s":"Bimodal Model","x":0.0703,"r":0.0033},{"s":"Bimodal Model","x":0.0715,"r":-0.0101},{"s":"Bimodal Model","x":0.085,"r":0.002},{"s":"Bimodal Model","x":0.0854,"r":-0.0142},{"s":"Bimodal Model","x":0.0935,"r":-0.0115},{"s":"Bimodal Model","x":0.094,"r":-0.0177},{"s":"Bimodal Model","x":0.0968,"r":-0.0161},{"s":"Bimodal Model","x":0.0972,"r":-0.0223},{"s":"Bimodal Model","x":0.11,"r":-0.018},{"s":"Bimodal Model","x":0.1224,"r":-0.0142},{"s":"Bimodal Model","x":0.1229,"r":-0.0209},{"s":"Bimodal Model","x":0.1512,"r":-0.0169},{"s":"Bimodal Model","x":0.2,"r":-0.0125},{"s":"Bimodal Model","x":0.25,"r":-0.0093}
    ]
  },
  "spacing": 81,
  "bounds": "flush",
  "resolve": {"scale": {"color": "independent"}, "legend": {"color": "independent"}},
  "vconcat": [
    {
      "width": 1700,
      "height": 1270,
      "layer": [
        {
          "data": {"name": "cdf"},
          "mark": {"type": "line", "strokeWidth": 11, "strokeJoin": "round"},
          "encoding": {
            "x": {"field": "x", "type": "quantitative", "scale": {"domain": [-0.1, 0.25], "nice": false, "zero": false}, "axis": null},
            "y": {"field": "v", "type": "quantitative", "scale": {"domain": [-0.05, 1.05], "nice": false, "zero": false},
                  "axis": {"values": [0, 0.2, 0.4, 0.6, 0.8, 1.0], "format": ".1f", "title": "Empirical CDF",
                           "titleX": -202, "titleY": 635, "titleAngle": 270, "titleAlign": "center", "titleBaseline": "alphabetic"}},
            "color": {"field": "s", "type": "nominal",
                      "scale": {"domain": ["Data", "Constant Model", "Log-Normal Model", "Exponential Model", "Bimodal Model"],
                                "range": ["#4d4d4d", "#00a6ed", "#e844a5", "#ff8c00", "#3dab5a"]},
                      "legend": {"title": null, "orient": "none", "legendX": 780, "legendY": 652, "direction": "vertical",
                                 "symbolType": "stroke", "symbolSize": 24964, "symbolStrokeWidth": 12,
                                 "labelFont": "Liberation Serif", "labelFontSize": 78, "labelColor": "#262626",
                                 "labelOffset": 52, "labelLimit": 0, "clipHeight": 112, "rowPadding": 0, "padding": 0,
                                 "encode": {"symbols": {"update": {"strokeCap": {"value": "round"}}}}}}
          }
        },
        {
          "data": {"name": "ecdf"},
          "mark": {"type": "line", "interpolate": "step-after", "strokeWidth": 13, "strokeJoin": "round"},
          "encoding": {
            "x": {"field": "x", "type": "quantitative", "axis": null},
            "y": {"field": "v", "type": "quantitative"},
            "color": {"field": "s", "type": "nominal", "legend": null}
          }
        },
        {
          "data": {"values": [{"label": "arrow"}]},
          "mark": {"type": "rule", "strokeWidth": 11, "color": "#949494"},
          "encoding": {
            "x": {"datum": 0.0495, "axis": null},
            "y": {"datum": 0.915},
            "y2": {"datum": 0.8}
          }
        },
        {
          "data": {"values": [{"label": "arrow"}]},
          "mark": {"type": "point", "shape": "M0,0L-1,2L1,2Z", "filled": true, "size": 1936, "color": "#949494", "opacity": 1, "strokeWidth": 0},
          "encoding": {"x": {"datum": 0.0495, "axis": null}, "y": {"datum": 0.933}}
        },
        {
          "data": {"values": [{"label": "arrow"}]},
          "mark": {"type": "point", "shape": "M0,0L-1,-2L1,-2Z", "filled": true, "size": 1936, "color": "#949494", "opacity": 1, "strokeWidth": 0},
          "encoding": {"x": {"datum": 0.0495, "axis": null}, "y": {"datum": 0.783}}
        },
        {
          "data": {"values": [{"label": "KS value"}]},
          "mark": {"type": "text", "font": "Liberation Sans", "fontWeight": "bold", "fontSize": 63, "color": "#939393", "align": "left", "baseline": "alphabetic"},
          "encoding": {"x": {"datum": 0.0443, "axis": null}, "y": {"datum": 0.689}, "text": {"field": "label"}}
        },
        {
          "data": {"values": [{"label": "KS test"}]},
          "mark": {"type": "text", "font": "Liberation Sans", "fontWeight": "bold", "fontSize": 103, "color": "#52575e", "align": "left", "baseline": "alphabetic"},
          "encoding": {"x": {"datum": -0.1918, "axis": null}, "y": {"datum": 0.5327}, "text": {"field": "label"}}
        }
      ]
    },
    {
      "width": 1700,
      "height": 338,
      "layer": [
        {
          "data": {"values": [{"label": "zero"}]},
          "mark": {"type": "rule", "strokeWidth": 7, "strokeDash": [33.5, 14], "color": "#4d4d4d"},
          "encoding": {"y": {"datum": 0}}
        },
        {
          "data": {"name": "resid"},
          "mark": {"type": "line", "strokeWidth": 7, "strokeJoin": "round"},
          "encoding": {
            "x": {"field": "x", "type": "quantitative", "scale": {"domain": [-0.1, 0.25], "nice": false, "zero": false},
                  "axis": {"values": [-0.1, -0.05, 0, 0.05, 0.1, 0.15, 0.2, 0.25], "format": ".2f", "labelPadding": 15,
                           "title": "Observed Flux Ratio, ℛ", "titleFontSize": 88, "titleX": 362, "titleY": 214,
                           "titleAlign": "left", "titleBaseline": "alphabetic", "titleAngle": 0}},
            "y": {"field": "r", "type": "quantitative", "scale": {"domain": [-0.1584, 0.1156], "nice": false, "zero": false},
                  "axis": {"values": [-0.1, 0, 0.1], "format": ".1f", "title": "Residuals",
                           "titleX": -251, "titleY": 169, "titleAngle": 270, "titleAlign": "center", "titleBaseline": "alphabetic"}},
            "color": {"field": "s", "type": "nominal",
                      "scale": {"domain": ["Data", "Constant Model", "Log-Normal Model", "Exponential Model", "Bimodal Model"],
                                "range": ["#4d4d4d", "#00a6ed", "#e844a5", "#ff8c00", "#3dab5a"]},
                      "legend": null}
          }
        },
        {
          "data": {"values": [{"label": "arrow"}]},
          "mark": {"type": "rule", "strokeWidth": 11, "color": "#949494"},
          "encoding": {
            "x": {"datum": 0.0496},
            "y": {"datum": -0.015},
            "y2": {"datum": -0.128}
          }
        },
        {
          "data": {"values": [{"label": "arrow"}]},
          "mark": {"type": "point", "shape": "M0,0L-1,2L1,2Z", "filled": true, "size": 1936, "color": "#949494", "opacity": 1, "strokeWidth": 0},
          "encoding": {"x": {"datum": 0.0496}, "y": {"datum": -0.002}}
        },
        {
          "data": {"values": [{"label": "arrow"}]},
          "mark": {"type": "point", "shape": "M0,0L-1,-2L1,-2Z", "filled": true, "size": 1936, "color": "#949494", "opacity": 1, "strokeWidth": 0},
          "encoding": {"x": {"datum": 0.0496}, "y": {"datum": -0.1411}}
        },
        {
          "data": {"values": [{"label": "obs"}]},
          "mark": {"type": "text", "font": "Liberation Serif", "fontSize": 62, "color": "#262626", "align": "left", "baseline": "alphabetic"},
          "encoding": {"x": {"datum": 0.1553}, "y": {"datum": -0.3427}, "text": {"field": "label"}}
        }
      ]
    }
  ]
}
